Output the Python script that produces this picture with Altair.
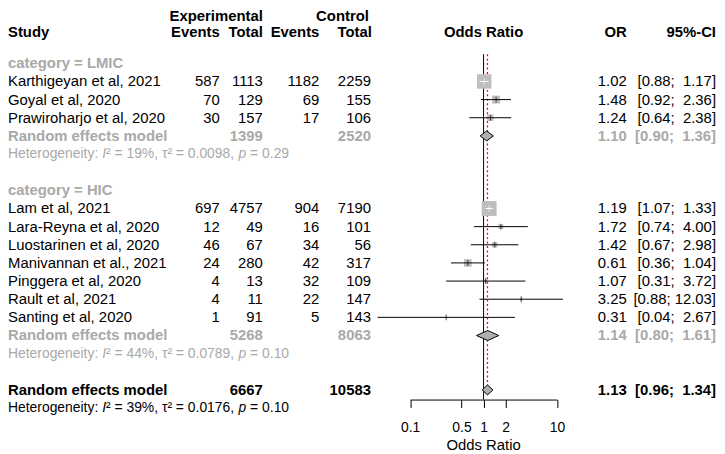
import altair as alt
import pandas as pd

# ---------------- data ----------------
studies = ["Karthigeyan et al, 2021", "Goyal et al, 2020", "Prawiroharjo et al, 2020",
           "Lam et al, 2021", "Lara-Reyna et al, 2020", "Luostarinen et al, 2020",
           "Manivannan et al., 2021", "Pinggera et al, 2020", "Rault et al, 2021",
           "Santing et al, 2020"]
category = ["LMIC", "LMIC", "LMIC", "HIC", "HIC", "HIC", "HIC", "HIC", "HIC", "HIC"]
exp_events = [587, 70, 30, 697, 12, 46, 24, 4, 4, 1]
exp_total = [1113, 129, 157, 4757, 49, 67, 280, 13, 11, 91]
ctrl_events = [1182, 69, 17, 904, 16, 34, 42, 32, 22, 5]
ctrl_total = [2259, 155, 106, 7190, 101, 56, 317, 109, 147, 143]
odds_ratio = [1.02, 1.48, 1.24, 1.19, 1.72, 1.42, 0.61, 1.07, 3.25, 0.31]
ci_lower = [0.88, 0.92, 0.64, 1.07, 0.74, 0.67, 0.36, 0.31, 0.88, 0.036]
ci_upper = [1.17, 2.36, 2.38, 1.33, 4.00, 2.98, 1.04, 3.72, 12.03, 2.67]
weight_pct = [31.5, 9.6, 6.0, 33.5, 3.6, 4.3, 8.8, 1.5, 1.0, 0.5]

groups = ["LMIC", "HIC"]
group_exp_total = [1399, 5268]
group_ctrl_total = [2520, 8063]
group_or = [1.10, 1.14]
group_lower = [0.90, 0.80]
group_upper = [1.36, 1.61]
group_i2 = ["19%", "44%"]
group_tau2 = ["0.0098", "0.0789"]
group_p = ["0.29", "0.10"]

overall_exp_total = 6667
overall_ctrl_total = 10583
overall_or = 1.13
overall_lower = 0.96
overall_upper = 1.34
overall_i2 = "39%"
overall_tau2 = "0.0176"
overall_p = "0.10"

axis_ticks = [0.1, 0.5, 1, 2, 10]

# ---------------- layout / style ----------------
FONT = "Liberation Sans"
DARK = "#A9A9A9"
BOXCOL = "#BEBEBE"
DIACOL = "#B0B0B0"
W, H = 715, 444

X_STUDY = 0
X_E_EV, X_E_TOT, X_C_EV, X_C_TOT = 213.5, 257, 314, 366
X_OR, X_CI_R = 624, 714
ROW_HDR1, ROW_HDR2 = -2.6, -1.72
HET_FS = 14
# x offsets (in em) of the pieces of the heterogeneity line
HET_EM = [0.0, 6.781, 7.059, 16.60, 17.44]
HET_ITALIC = [False, True, False, True, False]

YS = alt.Scale(domain=[0, 19], range=[53.9, 401.6], nice=False, zero=False)
XS = alt.Scale(type="log", domain=[0.1, 10], range=[405.5, 553.7], nice=False)
XAX = alt.Axis(values=axis_ticks, format="~g", orient="bottom", offset=-51,
               tickSize=8, labelPadding=13, labelFont=FONT, labelFontSize=14,
               labelColor="black", domainColor="black", tickColor="black",
               domainWidth=1, tickWidth=1, grid=False, title=None, labelFlush=False)

NBSP = "\u00a0"


def ci_text(lo, hi):
    return ("[" + f"{lo:.2f};" + NBSP + f"{hi:5.2f}".replace(" ", NBSP) + "]")


def het_parts(i2, tau2, p):
    return ["Heterogeneity:", "I", f"\u00b2 = {i2}, \u03c4\u00b2 = {tau2},", "p",
            f"= {p}"]


# ---------------- build row tables ----------------
study_rows, sub_rows, cat_rows, het_rows = [], [], [], []
r = 0
for gi, g in enumerate(groups):
    cat_rows.append(dict(row=r, text=f"category = {g}"))
    r += 1
    for i, s in enumerate(studies):
        if category[i] != g:
            continue
        study_rows.append(dict(
            row=r, label=s, e_ev=str(exp_events[i]), e_tot=str(exp_total[i]),
            c_ev=str(ctrl_events[i]), c_tot=str(ctrl_total[i]),
            or_txt=f"{odds_ratio[i]:.2f}", ci_txt=ci_text(ci_lower[i], ci_upper[i]),
            est=odds_ratio[i], lo=ci_lower[i], hi=ci_upper[i], w=weight_pct[i],
            lc="white" if weight_pct[i] > 20 else "black"))
        r += 1
    sub_rows.append(dict(
        row=r, label="Random effects model", e_tot=str(group_exp_total[gi]),
        c_tot=str(group_ctrl_total[gi]), or_txt=f"{group_or[gi]:.2f}",
        ci_txt=ci_text(group_lower[gi], group_upper[gi]),
        est=group_or[gi], lo=group_lower[gi], hi=group_upper[gi]))
    r += 1
    parts = het_parts(group_i2[gi], group_tau2[gi], group_p[gi])
    het_rows.append(dict(row=r, **{f"s{k}": parts[k] for k in range(5)}))
    r += 2

overall_row = r
overall_df = pd.DataFrame([dict(
    row=overall_row, label="Random effects model", e_tot=str(overall_exp_total),
    c_tot=str(overall_ctrl_total), or_txt=f"{overall_or:.2f}",
    ci_txt=ci_text(overall_lower, overall_upper),
    est=overall_or, lo=overall_lower, hi=overall_upper)])
oparts = het_parts(overall_i2, overall_tau2, overall_p)
overall_het_df = pd.DataFrame([dict(row=overall_row + 1,
                                    **{f"s{k}": oparts[k] for k in range(5)})])

study_df = pd.DataFrame(study_rows)
sub_df = pd.DataFrame(sub_rows)
cat_df = pd.DataFrame(cat_rows)
het_df = pd.DataFrame(het_rows)

# diamonds
dia = []
HALF = 0.273
for name, d in [("sub", sub_df), ("all", overall_df)]:
    for _, rr in d.iterrows():
        key = f"{name}{rr['row']}"
        dia.append(dict(k=key, x=rr["lo"], y=rr["row"], y2=rr["row"]))
        dia.append(dict(k=key, x=rr["est"], y=rr["row"] - HALF, y2=rr["row"] + HALF))
        dia.append(dict(k=key, x=rr["hi"], y=rr["row"], y2=rr["row"]))
dia_df = pd.DataFrame(dia)


def yenc(field="row"):
    return alt.Y(f"{field}:Q", scale=YS, axis=None)


def texts(df, cols, color, bold=False, size=15):
    out = []
    for field, x, align in cols:
        out.append(alt.Chart(df).mark_text(
            align=align, baseline="middle", font=FONT, fontSize=size,
            fontWeight="bold" if bold else "normal", color=color
        ).encode(x=alt.value(x), y=yenc(), text=f"{field}:N"))
    return out


def het_layers(df, color):
    out = []
    for k in range(5):
        out.append(alt.Chart(df).mark_text(
            align="left", baseline="middle", font=FONT, fontSize=HET_FS,
            fontStyle="italic" if HET_ITALIC[k] else "normal", color=color
        ).encode(x=alt.value(X_STUDY + HET_EM[k] * HET_FS), y=yenc(), text=f"s{k}:N"))
    return out


def header(text, x, align, row):
    return alt.Chart(pd.DataFrame({"row": [row], "t": [text]})).mark_text(
        align=align, baseline="middle", font=FONT, fontSize=15, fontWeight="bold",
        color="black").encode(x=alt.value(x), y=yenc(), text="t:N")


layers = []

# reference lines
lines_df = pd.DataFrame({"v": [1.0], "top": [-0.503], "bot": [18.53]})
layers.append(alt.Chart(lines_df).mark_rule(strokeWidth=1).encode(
    x=alt.X("v:Q", scale=XS, axis=XAX), y=yenc("top"), y2="bot:Q",
    color=alt.value("black")))
red_df = pd.DataFrame({"v": [overall_or], "top": [-0.503], "bot": [18.26]})
layers.append(alt.Chart(red_df).mark_rule(strokeWidth=1.3, strokeDash=[2, 2.5]).encode(
    x=alt.X("v:Q", scale=XS, axis=XAX), y=yenc("top"), y2="bot:Q",
    color=alt.value("#FF0000")))

# study boxes and CIs
layers.append(alt.Chart(study_df).mark_square(color=BOXCOL, opacity=1).encode(
    x=alt.X("est:Q", scale=XS, axis=XAX), y=yenc(),
    size=alt.Size("w:Q", scale=alt.Scale(domain=[0, 33.5], range=[0, 225]), legend=None)))
layers.append(alt.Chart(study_df).mark_rule(strokeWidth=1).encode(
    x=alt.X("lo:Q", scale=XS, axis=XAX), x2="hi:Q", y=yenc(),
    color=alt.Color("lc:N", scale=None)))
layers.append(alt.Chart(study_df).mark_tick(orient="vertical", size=6, thickness=1).encode(
    x=alt.X("est:Q", scale=XS, axis=XAX), y=yenc(),
    color=alt.Color("lc:N", scale=None)))

# diamonds
layers.append(alt.Chart(dia_df).mark_area(fill=DIACOL, stroke="black", strokeWidth=1,
                                          orient="vertical", opacity=1).encode(
    x=alt.X("x:Q", scale=XS, axis=XAX), y=yenc("y"), y2="y2:Q", detail="k:N"))

# headers
layers.append(header("Experimental", X_E_TOT, "right", ROW_HDR1))
layers.append(header("Control", 364, "right", ROW_HDR1))
layers.append(header("Study", X_STUDY, "left", ROW_HDR2))
layers.append(header("Events", X_E_EV, "right", ROW_HDR2))
layers.append(header("Total", X_E_TOT, "right", ROW_HDR2))
layers.append(header("Events", X_C_EV, "right", ROW_HDR2))
layers.append(header("Total", 367, "right", ROW_HDR2))
layers.append(header("OR", X_OR, "right", ROW_HDR2))
layers.append(header("95%-CI", X_CI_R, "right", ROW_HDR2))
layers.append(alt.Chart(pd.DataFrame({"row": [ROW_HDR2], "t": ["Odds Ratio"], "v": [1.0]})).mark_text(
    align="center", baseline="middle", font=FONT, fontSize=15, fontWeight="bold",
    color="black").encode(x=alt.X("v:Q", scale=XS, axis=XAX), y=yenc(), text="t:N"))

# axis title
layers.append(alt.Chart(pd.DataFrame({"t": ["Odds Ratio"], "v": [1.0]})).mark_text(
    align="center", baseline="middle", font=FONT, fontSize=15, color="black").encode(
    x=alt.X("v:Q", scale=XS, axis=XAX), y=alt.value(438.5), text="t:N"))

# table text
layers += texts(cat_df, [("text", X_STUDY, "left")], DARK, bold=True)
layers += texts(study_df, [("label", X_STUDY, "left"), ("e_ev", X_E_EV, "right"),
                           ("e_tot", X_E_TOT, "right"), ("c_ev", X_C_EV, "right"),
                           ("c_tot", X_C_TOT, "right"), ("or_txt", X_OR, "right"),
                           ("ci_txt", X_CI_R, "right")], "black")
sumcols = [("label", X_STUDY, "left"), ("e_tot", X_E_TOT, "right"),
           ("c_tot", X_C_TOT, "right"), ("or_txt", X_OR, "right"),
           ("ci_txt", X_CI_R, "right")]
layers += texts(sub_df, sumcols, DARK, bold=True)
layers += het_layers(het_df, DARK)
layers += texts(overall_df, sumcols, "black", bold=True)
layers += het_layers(overall_het_df, "black")

chart = alt.layer(*layers).properties(
    width=W, height=H, autosize=alt.AutoSizeParams(type="none"), padding=0
).configure_view(stroke=None)

chart.save("out.html", embed_options={"renderer": "svg", "actions": False})
